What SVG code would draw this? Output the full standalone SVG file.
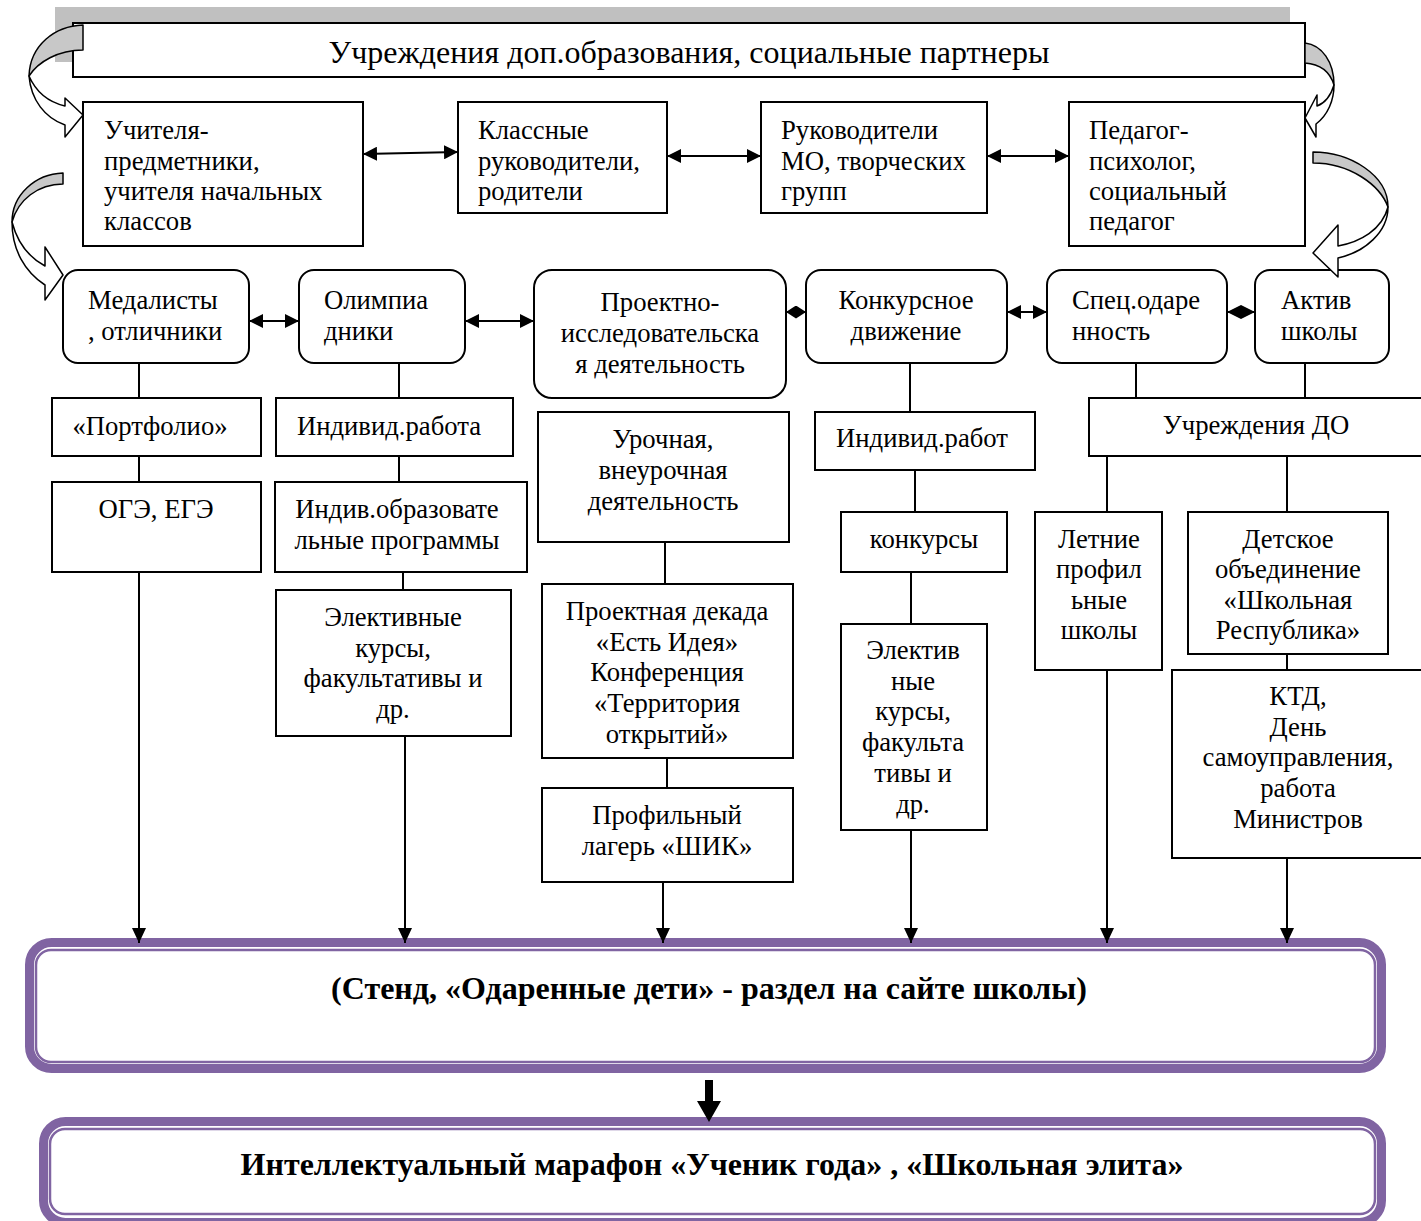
<svg xmlns="http://www.w3.org/2000/svg" width="1421" height="1221" viewBox="0 0 1421 1221">
<style>
text{font-family:"Liberation Serif","Times New Roman",serif;font-size:26.7px;fill:#000}
.c{text-anchor:middle}
.b{font-weight:bold;font-size:32px}
.box{fill:#fff;stroke:#000;stroke-width:2}
.ln{stroke:#000;stroke-width:2;fill:none}
.ca{stroke:#000;stroke-width:1.5;stroke-linejoin:round}
.g{fill:#c8c8c8}
.w{fill:#fff}
.pt{fill:none;stroke:#8064A2;stroke-width:9}
.pn{fill:none;stroke:#8064A2;stroke-width:2.5}
</style>
<defs>
<marker id="arr" viewBox="0 0 15 14" markerWidth="15" markerHeight="14" refX="15" refY="7" orient="auto" markerUnits="userSpaceOnUse"><path d="M0,0L15,7L0,14Z" fill="#000"/></marker>
<marker id="dh" viewBox="0 0 14 14" markerWidth="14" markerHeight="14" refX="14" refY="7" orient="auto-start-reverse" markerUnits="userSpaceOnUse"><path d="M0,0L14,7L0,14Z" fill="#000"/></marker>
<marker id="dm" viewBox="0 0 10 13" markerWidth="10" markerHeight="13" refX="10" refY="6.5" orient="auto-start-reverse" markerUnits="userSpaceOnUse"><path d="M0,0L10,6.5L0,13Z" fill="#000"/></marker>
<marker id="dm2" viewBox="0 0 14 14" markerWidth="14" markerHeight="14" refX="14" refY="7" orient="auto-start-reverse" markerUnits="userSpaceOnUse"><path d="M0,0L14,7L0,14Z" fill="#000"/></marker>
</defs>
<rect width="1421" height="1221" fill="#fff"/>

<g id="header">
<rect x="55" y="7" width="1235" height="55" fill="#c0c0c0"/>
<rect class="box" x="73" y="23" width="1232" height="54"/>
<text class="c" x="689" y="63" style="font-size:32px">Учреждения доп.образования, социальные партнеры</text>
</g>

<g id="n-uchitelya"><rect class="box" x="83" y="102" width="280" height="144"/>
<text x="104" y="139">Учителя-</text><text x="104" y="170">предметники,</text><text x="104" y="200">учителя начальных</text><text x="104" y="230">классов</text></g>
<g id="n-klassnye"><rect class="box" x="458" y="102" width="209" height="111"/>
<text x="478" y="139">Классные</text><text x="478" y="170">руководители,</text><text x="478" y="200">родители</text></g>
<g id="n-rukovoditeli"><rect class="box" x="761" y="102" width="226" height="111"/>
<text x="781" y="139">Руководители</text><text x="781" y="170">МО, творческих</text><text x="781" y="200">групп</text></g>
<g id="n-pedagog"><rect class="box" x="1069" y="102" width="236" height="144"/>
<text x="1089" y="139">Педагог-</text><text x="1089" y="170">психолог,</text><text x="1089" y="200">социальный</text><text x="1089" y="230">педагог</text></g>

<g id="n-medalisty"><rect class="box" x="63" y="270" width="186" height="93" rx="15"/>
<text x="88" y="309">Медалисты</text><text x="88" y="340">, отличники</text></g>
<g id="n-olimp"><rect class="box" x="299" y="270" width="166" height="93" rx="15"/>
<text x="324" y="309">Олимпиа</text><text x="324" y="340">дники</text></g>
<g id="n-proekt"><rect class="box" x="534" y="270" width="252" height="128" rx="18"/>
<text class="c" x="660" y="311">Проектно-</text><text class="c" x="660" y="342">исследовательска</text><text class="c" x="660" y="373">я деятельность</text></g>
<g id="n-konkurs"><rect class="box" x="806" y="270" width="201" height="93" rx="15"/>
<text class="c" x="906" y="309">Конкурсное</text><text class="c" x="906" y="340">движение</text></g>
<g id="n-spec"><rect class="box" x="1047" y="270" width="180" height="93" rx="15"/>
<text x="1072" y="309">Спец.одаре</text><text x="1072" y="340">нность</text></g>
<g id="n-aktiv"><rect class="box" x="1255" y="270" width="134" height="93" rx="15"/>
<text x="1281" y="309">Актив</text><text x="1281" y="340">школы</text></g>

<g id="n-portfolio"><rect class="box" x="52" y="398" width="209" height="58"/><text class="c" x="150" y="435">«Портфолио»</text></g>
<g id="n-oge"><rect class="box" x="52" y="482" width="209" height="90"/><text class="c" x="156" y="518">ОГЭ, ЕГЭ</text></g>
<g id="n-individ1"><rect class="box" x="276" y="398" width="237" height="58"/><text class="c" x="389" y="435">Индивид.работа</text></g>
<g id="n-indobr"><rect class="box" x="275" y="482" width="252" height="90"/><text class="c" x="397" y="518">Индив.образовате</text><text class="c" x="397" y="549">льные программы</text></g>
<g id="n-elekt1"><rect class="box" x="276" y="590" width="235" height="146"/>
<text class="c" x="393" y="626">Элективные</text><text class="c" x="393" y="657">курсы,</text><text class="c" x="393" y="687">факультативы и</text><text class="c" x="393" y="718">др.</text></g>
<g id="n-urochnaya"><rect class="box" x="538" y="412" width="251" height="130"/>
<text class="c" x="663" y="448">Урочная,</text><text class="c" x="663" y="479">внеурочная</text><text class="c" x="663" y="510">деятельность</text></g>
<g id="n-dekada"><rect class="box" x="542" y="584" width="251" height="174"/>
<text class="c" x="667" y="620">Проектная декада</text><text class="c" x="667" y="651">«Есть Идея»</text><text class="c" x="667" y="681">Конференция</text><text class="c" x="667" y="712">«Территория</text><text class="c" x="667" y="743">открытий»</text></g>
<g id="n-lager"><rect class="box" x="542" y="788" width="251" height="94"/>
<text class="c" x="667" y="824">Профильный</text><text class="c" x="667" y="855">лагерь «ШИК»</text></g>
<g id="n-individ2"><rect class="box" x="815" y="412" width="220" height="58"/><text class="c" x="922" y="447">Индивид.работ</text></g>
<g id="n-konkursy"><rect class="box" x="841" y="512" width="166" height="60"/><text class="c" x="924" y="548">конкурсы</text></g>
<g id="n-elekt2"><rect class="box" x="841" y="624" width="146" height="206"/>
<text class="c" x="913" y="659">Электив</text><text class="c" x="913" y="690">ные</text><text class="c" x="913" y="720">курсы,</text><text class="c" x="913" y="751">факульта</text><text class="c" x="913" y="782">тивы и</text><text class="c" x="913" y="813">др.</text></g>
<g id="n-uchrdo"><rect class="box" x="1089" y="398" width="345" height="58"/><text class="c" x="1256" y="434">Учреждения ДО</text></g>
<g id="n-letnie"><rect class="box" x="1035" y="512" width="127" height="158"/>
<text class="c" x="1099" y="548">Летние</text><text class="c" x="1099" y="578">профил</text><text class="c" x="1099" y="609">ьные</text><text class="c" x="1099" y="639">школы</text></g>
<g id="n-detskoe"><rect class="box" x="1188" y="512" width="200" height="142"/>
<text class="c" x="1288" y="548">Детское</text><text class="c" x="1288" y="578">объединение</text><text class="c" x="1288" y="609">«Школьная</text><text class="c" x="1288" y="639">Республика»</text></g>
<g id="n-ktd"><rect class="box" x="1172" y="670" width="262" height="188"/>
<text class="c" x="1298" y="705">КТД,</text><text class="c" x="1298" y="736">День</text><text class="c" x="1298" y="766">самоуправления,</text><text class="c" x="1298" y="797">работа</text><text class="c" x="1298" y="828">Министров</text></g>

<g id="n-stend">
<rect class="pt" x="29.5" y="942.5" width="1352" height="126" rx="22"/>
<rect class="pn" x="36" y="950" width="1339" height="112" rx="15"/>
<text class="c b" x="709" y="999">(Стенд, «Одаренные дети» - раздел на сайте школы)</text>
</g>
<g id="n-marafon">
<rect class="pt" x="43.5" y="1121.5" width="1338" height="101" rx="22"/>
<rect class="pn" x="50" y="1129" width="1325" height="85" rx="15"/>
<text class="c b" x="712" y="1175">Интеллектуальный марафон «Ученик года» , «Школьная элита»</text>
</g>

<g id="connectors">
<line class="ln" x1="363" y1="154" x2="458" y2="152" marker-start="url(#dh)" marker-end="url(#dh)"/>
<line class="ln" x1="667" y1="156" x2="761" y2="156" marker-start="url(#dh)" marker-end="url(#dh)"/>
<line class="ln" x1="987" y1="156" x2="1069" y2="156" marker-start="url(#dh)" marker-end="url(#dh)"/>
<line class="ln" x1="249" y1="321" x2="299" y2="321" marker-start="url(#dh)" marker-end="url(#dh)"/>
<line class="ln" x1="465" y1="321" x2="534" y2="321" marker-start="url(#dh)" marker-end="url(#dh)"/>
<line class="ln" x1="786" y1="312" x2="806" y2="312" marker-start="url(#dm)" marker-end="url(#dm)"/>
<line class="ln" x1="1007" y1="312" x2="1047" y2="312" marker-start="url(#dm2)" marker-end="url(#dm2)"/>
<line class="ln" x1="1227" y1="312" x2="1255" y2="312" marker-start="url(#dm2)" marker-end="url(#dm2)"/>
<path class="ln" d="M139,363V398M139,456V482M399,363V398M399,456V482M403,572V590M665,542V584M667,758V788M910,363V412M915,470V512M911,572V624M1136,363V398M1305,363V398M1107,456V512M1287,456V512M1287,654V670"/>
<line class="ln" x1="139" y1="572" x2="139" y2="943" marker-end="url(#arr)"/>
<line class="ln" x1="405" y1="736" x2="405" y2="943" marker-end="url(#arr)"/>
<line class="ln" x1="663" y1="882" x2="663" y2="943" marker-end="url(#arr)"/>
<line class="ln" x1="911" y1="830" x2="911" y2="943" marker-end="url(#arr)"/>
<line class="ln" x1="1107" y1="670" x2="1107" y2="943" marker-end="url(#arr)"/>
<line class="ln" x1="1287" y1="858" x2="1287" y2="943" marker-end="url(#arr)"/>
<polygon points="705,1080 713,1080 713,1101 721,1101 709,1122 697,1101 705,1101" fill="#000"/>
<path class="ca g" d="M83,25C55,26 30,45 29,76C38,62 58,50 83,50Z"/>
<path class="ca w" d="M29,76C31,100 45,118 65,125L65,137L83,115L65,98L65,106C48,102 36,92 29,76Z"/>
<path class="ca g" d="M63,173C35,174 12,195 12,222C18,200 38,184 63,184Z"/>
<path class="ca w" d="M12,222C12,250 25,272 45,285L45,300L63,275L45,247L45,266C30,258 18,245 12,222Z"/>
<path class="ca g" d="M1305,43C1322,45 1334,62 1334,85C1330,72 1320,64 1305,63Z"/>
<path class="ca w" d="M1334,85C1334,100 1328,115 1316,124L1316,137L1305,118L1317,95L1317,106C1325,103 1331,95 1334,85Z"/>
<path class="ca g" d="M1313,152C1350,152 1388,175 1388,207C1380,185 1350,163 1313,163Z"/>
<path class="ca w" d="M1388,207C1388,232 1365,252 1338,258L1338,277L1313,253L1338,225L1338,246C1360,242 1382,230 1388,207Z"/>
</g>
</svg>
